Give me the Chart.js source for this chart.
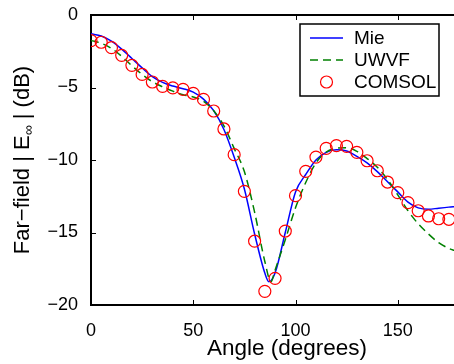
<!DOCTYPE html>
<html><head><meta charset="utf-8">
<script src="https://cdn.jsdelivr.net/npm/chart.js@4/dist/chart.umd.min.js"></script>
<style>html,body{margin:0;padding:0;background:#fff;overflow:hidden}</style>
</head><body>
<canvas id="c" width="454" height="364"></canvas>
<script>
const mieAngles = [0,5,10,15,20,25,30,35,40,45,50,55,60,65,70,75,80,85,87,90,95,100,105,110,115,120,125,130,135,140,145,150,155,160,165,170,175,178];
const mieValues = [-1.3,-1.45,-1.8,-2.35,-3.0,-3.65,-4.25,-4.65,-4.9,-5.08,-5.32,-5.8,-6.6,-7.9,-9.8,-12.0,-15.1,-17.8,-18.4,-17.8,-15.0,-12.2,-11.0,-10.0,-9.47,-9.3,-9.38,-9.75,-10.2,-10.8,-11.5,-12.2,-12.9,-13.3,-13.4,-13.32,-13.25,-13.22];
const uwvfAngles = [0,5,10,15,20,25,30,35,40,45,50,55,60,65,70,75,80,85,88,90,95,100,105,110,115,120,125,130,135,140,145,150,155,160,165,170,175,178];
const uwvfValues = [-1.75,-1.95,-2.3,-2.85,-3.5,-4.1,-4.6,-4.95,-5.25,-5.5,-5.65,-5.95,-6.6,-7.65,-9.2,-10.8,-13.6,-17.0,-18.4,-17.6,-15.5,-13.3,-11.55,-10.2,-9.45,-9.2,-9.15,-9.4,-9.9,-10.5,-11.35,-12.4,-13.5,-14.4,-15.1,-15.7,-16.1,-16.25];
const comsolAngles = [0,5,10,15,20,25,30,35,40,45,50,55,60,65,70,75,80,85,90,95,100,105,110,115,120,125,130,135,140,145,150,155,160,165,170,175];
const comsolValues = [-1.77,-1.88,-2.25,-2.78,-3.47,-4.1,-4.62,-4.92,-5.03,-5.13,-5.4,-5.82,-6.62,-7.86,-9.63,-12.16,-15.6,-19.06,-18.16,-14.9,-12.46,-10.78,-9.8,-9.2,-9.01,-9.06,-9.47,-10.05,-10.74,-11.52,-12.25,-12.94,-13.5,-13.86,-14.05,-14.09];
const seriesNames = ['Mie','UWVF','COMSOL'];
const xTickValues = [0,50,100,150];
const yTickValues = [0,-5,-10,-15,-20];
const xTitle = 'Angle (degrees)';
const yTitleParts = ['Far\u2212field | E', '\u221E', ' | (dB)'];

const FONT = '"Liberation Sans", Arial, Helvetica, sans-serif';
const pts = (xs, ys) => xs.map((x, i) => ({x, y: ys[i]}));
const fmt = v => (v < 0 ? '\u2212' + Math.abs(v) : String(v));

const framePlugin = {
  id: 'frame',
  afterDatasetsDraw(chart) {
    const {ctx, chartArea: a, scales: {x, y}} = chart;
    ctx.save();
    ctx.strokeStyle = '#000';
    ctx.lineWidth = 1;
    const tl = 5;
    xTickValues.forEach(v => {
      const px = Math.round(x.getPixelForValue(v)) + 0.5;
      ctx.beginPath(); ctx.moveTo(px, a.bottom); ctx.lineTo(px, a.bottom - tl); ctx.stroke();
      ctx.beginPath(); ctx.moveTo(px, a.top); ctx.lineTo(px, a.top + tl); ctx.stroke();
    });
    yTickValues.forEach(v => {
      const py = Math.round(y.getPixelForValue(v)) + 0.5;
      ctx.beginPath(); ctx.moveTo(a.left, py); ctx.lineTo(a.left + tl, py); ctx.stroke();
    });
    ctx.lineWidth = 2;
    ctx.beginPath(); ctx.moveTo(a.left - 1, a.top); ctx.lineTo(a.right, a.top); ctx.stroke();
    ctx.restore();
  },
  afterDraw(chart) {
    const {ctx, chartArea: a} = chart;
    // x title
    ctx.save();
    ctx.fillStyle = '#000';
    ctx.font = '22.5px ' + FONT;
    ctx.textAlign = 'center'; ctx.textBaseline = 'middle';
    ctx.fillText(xTitle, a.left + 196, a.bottom + 44);
    ctx.restore();

    // y title with subscript
    ctx.save();
    ctx.fillStyle = '#000';
    ctx.translate(a.left - 68, (a.top + a.bottom) / 2);
    ctx.rotate(-Math.PI / 2);
    ctx.textBaseline = 'middle';
    const mainFont = '22px ' + FONT, subFont = '14px ' + FONT;
    ctx.font = mainFont; const w0 = ctx.measureText(yTitleParts[0]).width; const w2 = ctx.measureText(yTitleParts[2]).width;
    ctx.font = subFont; const w1 = ctx.measureText(yTitleParts[1]).width;
    let sx = -(w0 + w1 + w2) / 2;
    ctx.textAlign = 'left';
    ctx.font = mainFont; ctx.fillText(yTitleParts[0], sx, 0); sx += w0;
    ctx.font = subFont; ctx.fillText(yTitleParts[1], sx, 6); sx += w1;
    ctx.font = mainFont; ctx.fillText(yTitleParts[2], sx, 0);
    ctx.restore();

    // legend
    ctx.save();
    const bx = a.right - 154, by = a.top + 9, bw = 139, bh = 72;
    ctx.fillStyle = '#fff'; ctx.fillRect(bx, by, bw, bh);
    ctx.strokeStyle = '#000'; ctx.lineWidth = 1.5; ctx.strokeRect(bx, by, bw, bh);
    ctx.font = '19px ' + FONT; ctx.textBaseline = 'middle'; ctx.textAlign = 'left';
    chart.data.datasets.forEach((ds, i) => {
      const cy = by + 14 + i * 22;
      const lx0 = bx + 10, lx1 = bx + 43;
      ctx.strokeStyle = ds.borderColor; ctx.lineWidth = ds.borderWidth;
      if (ds.showLine !== false) {
        ctx.setLineDash(ds.borderDash || []);
        ctx.beginPath(); ctx.moveTo(lx0, cy); ctx.lineTo(lx1, cy); ctx.stroke();
        ctx.setLineDash([]);
      } else {
        ctx.beginPath(); ctx.arc((lx0 + lx1) / 2, cy, ds.pointRadius, 0, Math.PI * 2); ctx.stroke();
      }
      ctx.fillStyle = '#000';
      ctx.fillText(ds.label, bx + 54, cy + 1);
    });
    ctx.restore();
  }
};

new Chart(document.getElementById('c'), {
  type: 'line',
  data: {
    datasets: [
      {label: seriesNames[0], data: pts(mieAngles, mieValues), borderColor: '#0000ff', borderWidth: 1.5, pointRadius: 0, cubicInterpolationMode: 'monotone', fill: false, order: 2},
      {label: seriesNames[1], data: pts(uwvfAngles, uwvfValues), borderColor: '#008000', borderWidth: 1.5, borderDash: [8, 5], pointRadius: 0, cubicInterpolationMode: 'monotone', fill: false, order: 1},
      {label: seriesNames[2], data: pts(comsolAngles, comsolValues), showLine: false, borderColor: '#ff0000', backgroundColor: 'rgba(0,0,0,0)', borderWidth: 1.2, pointRadius: 6, pointStyle: 'circle', order: 0}
    ]
  },
  options: {
    responsive: false,
    animation: false,
    devicePixelRatio: 1,
    layout: {autoPadding: false, padding: {top: 15, right: 0, left: 0, bottom: 0}},
    plugins: {legend: {display: false}, tooltip: {enabled: false}},
    scales: {
      x: {
        type: 'linear', min: 0, max: 177.5,
        grid: {display: false},
        border: {display: true, color: '#000', width: 2},
        ticks: {stepSize: 50, includeBounds: false, padding: 7, color: '#000', font: {family: FONT, size: 18}, maxRotation: 0, callback: fmt},
        title: {display: false, text: xTitle},
        afterFit(s) { s.height = 59; s.paddingLeft = 0; s.paddingRight = 0; }
      },
      y: {
        type: 'linear', min: -20, max: 0,
        grid: {display: false},
        border: {display: true, color: '#000', width: 2},
        ticks: {stepSize: 5, padding: 5, color: '#000', font: {family: FONT, size: 18}, callback: fmt},
        afterFit(s) { s.width = 91; s.paddingTop = 0; s.paddingBottom = 0; }
      }
    }
  },
  plugins: [framePlugin]
});
</script>
</body></html>
